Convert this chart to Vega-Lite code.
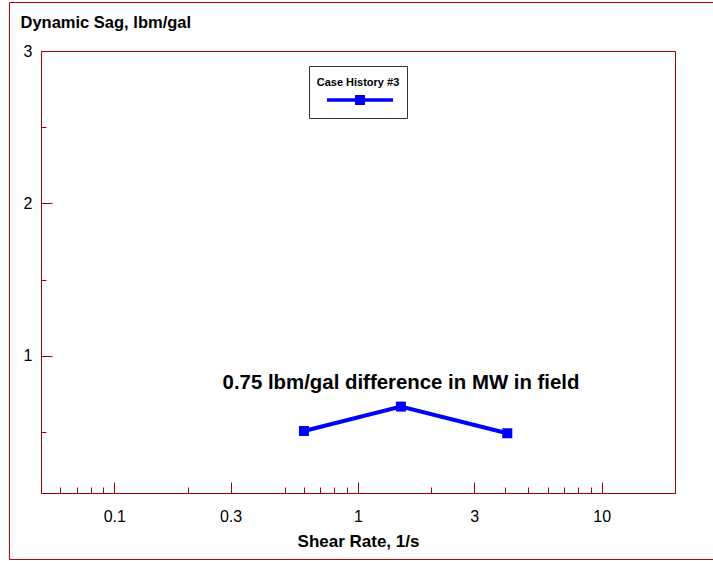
{
  "$schema": "https://vega.github.io/schema/vega-lite/v6.json",
  "width": 634,
  "height": 442,
  "autosize": "none",
  "padding": {"left": 41, "top": 51, "right": 38, "bottom": 68},
  "background": "white",
  "config": {
    "font": "Liberation Sans",
    "view": {"stroke": "#a00000", "strokeWidth": 1},
    "axis": {"domainColor": "#a00000", "tickColor": "#a00000", "labelColor": "black", "titleColor": "black", "labelFont": "Liberation Sans", "titleFont": "Liberation Sans", "grid": false}
  },
  "datasets": {
    "sag": [
      {"series": "Case History #3", "shear": 0.6, "sag": 0.507},
      {"series": "Case History #3", "shear": 1.5, "sag": 0.667},
      {"series": "Case History #3", "shear": 4.1, "sag": 0.492}
    ],
    "note": [{"label": "0.75 lbm/gal difference in MW in field"}]
  },
  "layer": [
    {
      "data": {"values": [{}]},
      "mark": {"type": "rect", "filled": false, "stroke": "#a00000", "strokeWidth": 1, "clip": false},
      "encoding": {
        "x": {"datum": 0.0371, "type": "quantitative", "scale": {"type": "log", "domain": [0.05, 20], "nice": false}, "axis": null},
        "x2": {"datum": 40},
        "y": {"datum": -0.336, "type": "quantitative", "scale": {"domain": [0.1, 3], "nice": false, "zero": false}, "axis": null},
        "y2": {"datum": 3.318}
      }
    },
    {
      "data": {"name": "sag"},
      "mark": {"type": "line", "strokeWidth": 4, "point": {"shape": "square", "size": 100, "filled": true}},
      "encoding": {
        "x": {"field": "shear", "type": "quantitative",
          "axis": {"values": [0.1, 0.3, 1, 3, 10], "format": "~g", "tickSize": -11, "tickColor": "#a00000", "domainColor": "#a00000", "labelPadding": 26, "labelFontSize": 16, "title": "Shear Rate, 1/s", "titleFontSize": 17, "titleFontWeight": "bold", "titleX": 317, "titleY": 48, "titleBaseline": "middle", "orient": "bottom"}},
        "y": {"field": "sag", "type": "quantitative",
          "axis": {"values": [1, 2, 3], "format": "~g", "tickSize": -11, "tickColor": "#a00000", "domainColor": "#a00000", "labelPadding": 20, "labelFontSize": 16, "title": "Dynamic Sag, lbm/gal", "titleAngle": 0, "titleAlign": "left", "titleBaseline": "middle", "titleX": -21, "titleY": -29, "titleFontSize": 16.5, "titleFontWeight": "bold", "orient": "left"}},
        "color": {"field": "series", "type": "nominal", "scale": {"range": ["#0000ff"]},
          "legend": {"orient": "none", "legendX": 268, "legendY": 15, "title": ["", "Case History #3"], "titleLineHeight": 3.5, "titleFontSize": 11, "titleFontWeight": "bold", "titleAnchor": "middle", "titleColor": "black", "titlePadding": 6.5, "labelExpr": "''", "labelOffset": 0, "labelFontSize": 1, "symbolType": "M8,3H74M37.75,-0.25H44.25V6.25H37.75Z", "symbolSize": 4, "symbolStrokeWidth": 3.5, "symbolFillColor": "#0000ff", "symbolStrokeColor": "#0000ff", "padding": 7, "strokeColor": "#333333", "fillColor": "white"}}
      }
    },
    {
      "data": {"name": "note"},
      "mark": {"type": "text", "fontSize": 20.4, "fontWeight": "bold", "align": "center", "baseline": "middle", "color": "black"},
      "encoding": {
        "text": {"field": "label"},
        "x": {"datum": 1.502, "type": "quantitative",
          "axis": {"values": [0.06, 0.07, 0.08, 0.09, 0.2, 0.5, 0.6, 0.7, 0.8, 0.9, 2, 4, 5, 6, 7, 8, 9, 23.2], "tickSize": -6, "tickColor": "#a00000", "labels": false, "domain": false, "title": null, "orient": "bottom"}},
        "y": {"datum": 0.822, "type": "quantitative",
          "axis": {"values": [0.5, 1.5, 2.5], "tickSize": -5, "tickColor": "#a00000", "labels": false, "domain": false, "title": null, "orient": "left"}}
      }
    }
  ],
  "resolve": {"axis": {"x": "independent", "y": "independent"}}
}
